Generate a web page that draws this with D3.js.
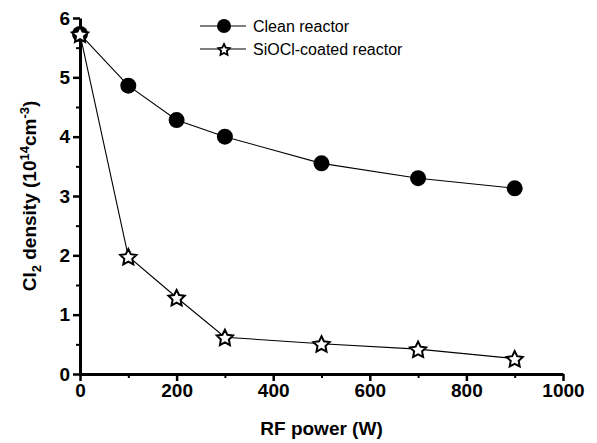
<!DOCTYPE html>
<html>
<head>
<meta charset="utf-8">
<script src="https://cdn.jsdelivr.net/npm/d3@7"></script>
<style>
  body { margin: 0; background: #fff; }
  text { font-family: "Liberation Sans", Arial, sans-serif; }
</style>
</head>
<body>
<div id="chart"></div>
<script>
// data
const power = [0, 100, 200, 300, 500, 700, 900];
const cleanDensity = [5.73, 4.86, 4.28, 4.0, 3.55, 3.3, 3.13];
const coatedDensity = [5.73, 1.98, 1.29, 0.62, 0.51, 0.42, 0.26];
const seriesNames = ["Clean reactor", "SiOCl-coated reactor"];
const xTicks = [0, 200, 400, 600, 800, 1000];
const yTicks = [0, 1, 2, 3, 4, 5, 6];

const width = 597, height = 443;
const margin = {left: 80, right: 34, top: 18, bottom: 69};

const svg = d3.select("#chart").append("svg")
  .attr("width", width)
  .attr("height", height);

const x = d3.scaleLinear().domain([0, 1000]).range([margin.left, width - margin.right]);
const y = d3.scaleLinear().domain([0, 6]).range([height - margin.bottom, margin.top]);

// fat five-point star, like the origin-style marker
function starPath(ro, ri) {
  const pts = [];
  for (let k = 0; k < 10; k++) {
    const r = k % 2 ? ri : ro;
    const a = -Math.PI / 2 + k * Math.PI / 5;
    pts.push([r * Math.cos(a), r * Math.sin(a)]);
  }
  return "M" + pts.map(p => p[0].toFixed(2) + "," + p[1].toFixed(2)).join("L") + "Z";
}

// minor ticks (half steps)
const xMinor = d3.range(100, 1000, 200);
const yMinor = d3.range(0.5, 6, 1);

svg.append("g")
  .attr("transform", "translate(0," + y(0) + ")")
  .call(d3.axisBottom(x).tickValues(xMinor).tickSize(4).tickFormat(""))
  .call(g => g.select(".domain").remove())
  .call(g => g.selectAll("line").attr("stroke-width", 2));
svg.append("g")
  .attr("transform", "translate(" + x(0) + ",0)")
  .call(d3.axisLeft(y).tickValues(yMinor).tickSize(4).tickFormat(""))
  .call(g => g.select(".domain").remove())
  .call(g => g.selectAll("line").attr("stroke-width", 2));

// main axes
const xAxis = svg.append("g")
  .attr("transform", "translate(0," + y(0) + ")")
  .call(d3.axisBottom(x).tickValues(xTicks).tickSize(7).tickSizeOuter(0).tickPadding(3).tickFormat(d3.format("d")));
const yAxis = svg.append("g")
  .attr("transform", "translate(" + x(0) + ",0)")
  .call(d3.axisLeft(y).tickValues(yTicks).tickSize(7).tickSizeOuter(0).tickPadding(3).tickFormat(d3.format("d")));

[xAxis, yAxis].forEach(g => {
  g.select(".domain").attr("stroke-width", 3);
  g.selectAll("line").attr("stroke-width", 2.5);
  g.selectAll("text")
    .attr("font-family", "'Liberation Sans', Arial, sans-serif")
    .attr("font-size", 19)
    .attr("font-weight", "bold")
    .attr("fill", "#000");
});

// axis titles
svg.append("text")
  .attr("x", x(500))
  .attr("y", 435)
  .attr("text-anchor", "middle")
  .attr("font-size", 19)
  .attr("font-weight", "bold")
  .text("RF power (W)");

const yl = svg.append("text")
  .attr("transform", "translate(36," + y(3) + ") rotate(-90)")
  .attr("text-anchor", "middle")
  .attr("font-size", 19)
  .attr("font-weight", "bold");
yl.append("tspan").text("Cl");
yl.append("tspan").attr("font-size", 13).attr("dy", 5).text("2");
yl.append("tspan").attr("dy", -5).text(" density (10");
yl.append("tspan").attr("font-size", 13).attr("dy", -7).text("14");
yl.append("tspan").attr("dy", 7).text("cm");
yl.append("tspan").attr("font-size", 13).attr("dy", -7).text("-3");
yl.append("tspan").attr("dy", 7).text(")");

const line = d3.line().x(d => x(d[0])).y(d => y(d[1]));

const clean = power.map((p, i) => [p, cleanDensity[i]]);
const coated = power.map((p, i) => [p, coatedDensity[i]]);

svg.append("path").datum(clean).attr("d", line)
  .attr("fill", "none").attr("stroke", "#000").attr("stroke-width", 1.1);
svg.append("path").datum(coated).attr("d", line)
  .attr("fill", "none").attr("stroke", "#000").attr("stroke-width", 1.1);

svg.selectAll(".dot").data(clean).enter().append("circle")
  .attr("cx", d => x(d[0])).attr("cy", d => y(d[1]))
  .attr("r", 8).attr("fill", "#000");

svg.selectAll(".star").data(coated).enter().append("path")
  .attr("d", starPath(8.5, 4.2))
  .attr("transform", d => "translate(" + x(d[0]) + "," + (y(d[1]) + 1) + ")")
  .attr("fill", "#fff").attr("stroke", "#000").attr("stroke-width", 2)
  .attr("stroke-linejoin", "miter");

// legend
const legend = svg.append("g").attr("transform", "translate(200,26)");
seriesNames.forEach((name, i) => {
  const g = legend.append("g").attr("transform", "translate(0," + i * 23 + ")");
  g.append("line").attr("x1", 0).attr("x2", 46).attr("y1", 0).attr("y2", 0)
    .attr("stroke", "#000").attr("stroke-width", 1.1);
  if (i === 0) {
    g.append("circle").attr("cx", 24).attr("cy", 0).attr("r", 7).attr("fill", "#000");
  } else {
    g.append("path").attr("d", starPath(6, 3))
      .attr("transform", "translate(24,1)")
      .attr("fill", "#fff").attr("stroke", "#000").attr("stroke-width", 1.8);
  }
  g.append("text").attr("x", 53).attr("y", 6).attr("font-size", 16).text(name);
});
</script>
</body>
</html>
